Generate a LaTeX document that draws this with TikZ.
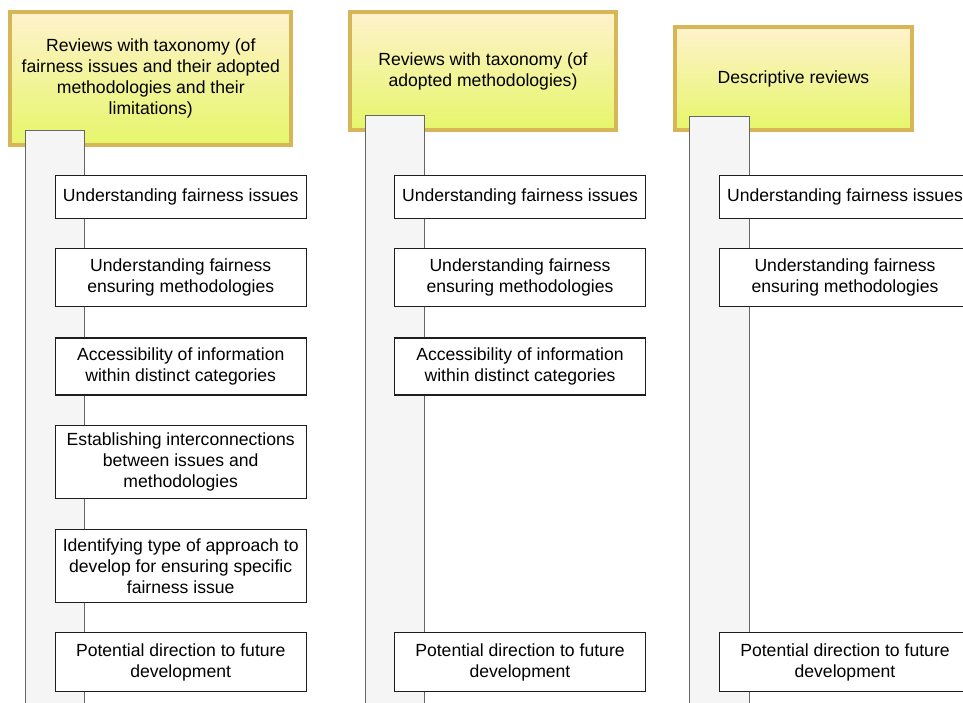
\documentclass[tikz,border=0pt]{standalone}
\usepackage{fontspec}
\setmainfont{Liberation Sans}
\definecolor{hdrtop}{HTML}{FFF2CC}
\definecolor{hdrbot}{HTML}{E6F66A}
\definecolor{hdrline}{HTML}{D6B656}
\definecolor{barfill}{HTML}{F5F5F5}
\definecolor{barline}{HTML}{666666}
\definecolor{itemline}{HTML}{1E1E1E}
\tikzset{
  txt/.style={font=\fontsize{17.6}{21}\selectfont, align=center, inner sep=0pt},
  header/.style={txt, draw=hdrline, line width=4pt, top color=hdrtop, bottom color=hdrbot},
  track/.style={draw=barline, line width=1pt, fill=barfill, anchor=north, inner sep=0pt},
  item/.style={txt, draw=itemline, line width=1.3pt, fill=white, minimum width=251pt}
}
\begin{document}
\begin{tikzpicture}[x=1pt,y=-1pt]
\useasboundingbox (0,0) rectangle (963,702);

% column headers
\node[header, minimum width=281pt, minimum height=132.7pt] (h1) at (150.8,78.3)
  {Reviews with taxonomy (of\\fairness issues and their adopted\\methodologies and their\\limitations)};
\node[header, minimum width=266pt, minimum height=118pt] (h2) at (483,71)
  {Reviews with taxonomy (of\\adopted methodologies)};
\node[header, minimum width=237pt, minimum height=103pt] (h3) at (793.5,78.5)
  {Descriptive reviews};

% vertical tracks hanging from each header
\node[track, minimum width=59.3pt, minimum height=600pt] (t1) at (55.3,130) {};
\node[track, minimum width=58.5pt, minimum height=600pt] (t2) at (395.2,115.3) {};
\node[track, minimum width=59.7pt, minimum height=600pt] (t3) at (719.8,115.7) {};

% column 1 items
\node[item, minimum height=43pt] (a1) at (180.7,197) {Understanding fairness issues};
\node[item, minimum height=58pt] (a2) at (180.7,277.8) {Understanding fairness\\ensuring methodologies};
\node[item, minimum height=57pt] (a3) at (180.7,366.5) {Accessibility of information\\within distinct categories};
\node[item, minimum height=73pt] (a4) at (180.7,462) {Establishing interconnections\\between issues and\\methodologies};
\node[item, minimum height=73pt] (a5) at (180.7,566) {Identifying type of approach to\\develop for ensuring specific\\fairness issue};
\node[item, minimum height=59pt] (a6) at (180.7,662) {Potential direction to future\\development};

% column 2 items
\node[item, minimum height=43pt] (b1) at (520,197) {Understanding fairness issues};
\node[item, minimum height=58pt] (b2) at (520,277.8) {Understanding fairness\\ensuring methodologies};
\node[item, minimum height=57pt] (b3) at (520,366.5) {Accessibility of information\\within distinct categories};
\node[item, minimum height=59pt] (b6) at (520,662) {Potential direction to future\\development};

% column 3 items
\node[item, minimum height=43pt] (c1) at (845,197) {Understanding fairness issues};
\node[item, minimum height=58pt] (c2) at (845,277.8) {Understanding fairness\\ensuring methodologies};
\node[item, minimum height=59pt] (c6) at (845,662) {Potential direction to future\\development};
\end{tikzpicture}
\end{document}
